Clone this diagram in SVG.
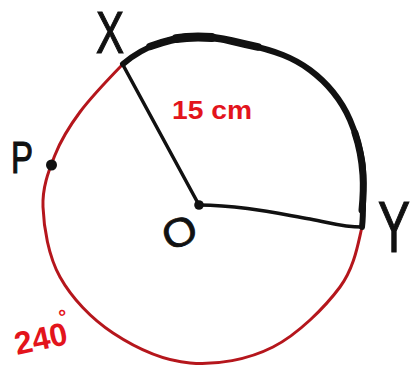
<svg xmlns="http://www.w3.org/2000/svg" width="414" height="367" viewBox="0 0 414 367">
<style>
.lbl{font-family:"Liberation Sans",Arial,sans-serif;fill:#111;stroke:#111;stroke-width:0.8;}
.red{font-family:"Liberation Sans",Arial,sans-serif;font-weight:bold;fill:#e3141c;}
.redarc{fill:none;stroke:#b5161c;stroke-width:3;stroke-linecap:round;stroke-linejoin:round;}
.blk{fill:none;stroke:#111;stroke-linecap:round;stroke-linejoin:round;}
</style>
<rect width="414" height="367" fill="#ffffff"/>
<g id="circle">
<path class="redarc" d="M362,227 C358.2,242.3 354.8,267 340,287 C325.2,307 298,334.3 273,347 C248,359.7 216.7,365.3 190,363 C163.3,360.7 134.7,347.3 113,333 C91.3,318.7 71.7,298 60,277 C48.3,256 43.8,227.3 43,207 C42.2,186.7 48.8,170.8 55,155 C61.2,139.2 68.7,127.2 80,112 C91.3,96.8 113,74.3 123,64"/>
<path class="blk" stroke-width="6" d="M123,64 C136.3,52.5 146.7,47.5 160,43 C173.3,38.5 188.8,36.8 203,37 C217.2,37.2 231.7,41 245,44 C258.3,47 272.2,50.7 283,55 C293.8,59.3 301.7,63.8 310,70 C318.3,76.2 326.3,83.7 333,92 C339.7,100.3 345.2,108.7 350,120 C354.8,131.3 359.8,147.5 362,160 C364.2,172.5 363,183.8 363,195 C363,206.2 363.3,217 362,227"/>
<path class="blk" stroke-width="7.5" d="M150,46.5 C160,43 173.3,38.5 188.8,36.8 C200,36.6 217.2,37.2 231.7,41 C240,43 250,45.3 258,47"/>
<path class="blk" stroke-width="9" d="M176,38.6 C186,37 200,36.6 212,37.5"/>
<path class="blk" stroke-width="7" d="M355,133 C359.8,147.5 362,160 363,175 C364,190 363,200 362,210"/>
</g>
<g id="connectors">
<path class="blk" stroke-width="3.5" d="M123,65 L199,205"/>
<path class="blk" stroke-width="3.5" d="M199,205 C240,205 280,214 310,219 C332,223 342,227 362,227"/>
</g>
<g id="node-O">
<circle cx="199" cy="205" r="4.8" fill="#111"/>
<text class="lbl" font-size="40" transform="translate(178,232) rotate(-22) scale(1.1,1) translate(-14.5,14.5)">O</text>
</g>
<g id="node-X">
<text class="lbl" font-size="40" transform="translate(96,53) scale(1.05,1.5)">X</text>
</g>
<g id="node-Y">
<text class="lbl" font-size="48" transform="translate(378,252) scale(1,1.5)">Y</text>
</g>
<g id="node-P">
<circle cx="51.5" cy="165" r="5.5" fill="#111"/>
<text class="lbl" font-size="30" transform="translate(11,173) scale(1.1,1.45)">P</text>
</g>
<g id="labels">
<text class="red" x="172" y="119" font-size="26" textLength="80" lengthAdjust="spacingAndGlyphs">15 cm</text>
<text class="red" font-size="32" transform="translate(17,355) rotate(-12)">240<tspan font-size="20" dx="-4.4" dy="-21">°</tspan></text>
</g>
</svg>
